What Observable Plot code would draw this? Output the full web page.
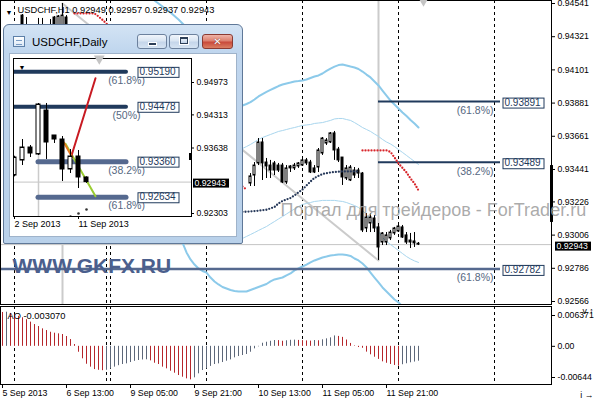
<!DOCTYPE html>
<html>
<head>
<meta charset="utf-8">
<script src="https://cdn.jsdelivr.net/npm/d3@7"></script>
<script src="https://cdn.jsdelivr.net/npm/@observablehq/plot@0.6"></script>
<style>
  html, body { margin: 0; padding: 0; background: #fff; }
  #terminal { position: relative; width: 596px; height: 400px; overflow: hidden; background: #fff;
    font-family: "Liberation Sans", Arial, sans-serif; }
  #terminal svg { position: absolute; overflow: visible; }
  #win { position: absolute; left: 3px; top: 24px; width: 240px; height: 220px; box-sizing: border-box;
    border: 1px solid #5f7898; border-radius: 6px 6px 2px 2px;
    background: linear-gradient(180deg, #d3e3f4 0, #c0d6ee 26px, #b9d1ea 100%); }
  #win .ico { position: absolute; left: 9px; top: 11px; width: 10px; height: 9px; border: 1px solid #5d80a8;
    background: linear-gradient(180deg, #ffffff, #dbe8f6); }
  #win .ico::after { content: ""; position: absolute; left: 2px; top: 3px; width: 6px; height: 3px;
    border-top: 1px solid #7a9cc4; border-bottom: 1px solid #7a9cc4; }
  #win .ttl { position: absolute; left: 28px; top: 11px; font-size: 11.5px; line-height: 13px; color: #000; }
  #win .btn { position: absolute; top: 9px; height: 15px; box-sizing: border-box; border: 1px solid #6c819d;
    border-radius: 3px; background: linear-gradient(180deg, #f0f5fb 0, #d9e5f2 45%, #c5d6ea 55%, #d6e4f3 100%); }
  #win .min { left: 133px; width: 30px; }
  #win .max { left: 165px; width: 30px; }
  #win .cls { left: 198px; width: 31px; border-color: #8a3b33; color: #fff; text-align: center;
    font: bold 10px/13px "DejaVu Sans", sans-serif; text-shadow: 0 0 1px #5a1c14;
    background: linear-gradient(180deg, #efb4a8 0, #dc806f 45%, #c94a3b 55%, #da7f63 100%); }
  #win .min::after { content: ""; position: absolute; left: 10px; top: 7px; width: 7px; height: 2px;
    background: #2d3f57; border: 1px solid #fff; }
  #win .max::after { content: ""; position: absolute; left: 10px; top: 2px; width: 6px; height: 4px;
    border: 1px solid #2d3f57; border-top-width: 2px; box-shadow: 0 0 0 1px #fff; }
  #win .client { position: absolute; left: 6px; top: 29px; width: 226px; height: 182px; background: #fff;
    box-shadow: 0 0 0 1px #9fb3ca; }
</style>
</head>
<body>
<div id="terminal"></div>
<script>
// ===== USDCHF H1 (bar index 0 = 5 Sep 2013 21:00, one bar per hour) =====
const barIndex = [5, 6, 9, 10, 12, 13, 14, 15, 16,
  62, 63, 64, 65, 66, 67, 68, 69, 70, 71, 72, 73, 74, 75, 76, 77, 78, 79, 80, 81,
  82, 83, 84, 85, 86, 87, 88, 89, 90, 91, 92, 93, 94, 95, 96, 97, 98, 99, 100, 101,
  102, 103, 104];
const barOpen = [0.94461, 0.94330, 0.94370, 0.94345, 0.94370, 0.94448, 0.94380, 0.94380, 0.94448,
  0.93348, 0.93401, 0.93481, 0.93620, 0.93487, 0.93467, 0.93481, 0.93467, 0.93467, 0.93355,
  0.93448, 0.93448, 0.93461, 0.93467, 0.93501, 0.93487, 0.93448, 0.93454, 0.93547, 0.93613,
  0.93620, 0.93680, 0.93573, 0.93520, 0.93381, 0.93368, 0.93434, 0.93434, 0.93414, 0.93050,
  0.93083, 0.93116, 0.93057, 0.92957, 0.92957, 0.92984, 0.93017, 0.93030, 0.93057, 0.93004,
  0.92970, 0.92964, 0.92949];
const barHigh = [0.94468, 0.94448, 0.94442, 0.94442, 0.94435, 0.94455, 0.94461, 0.94541, 0.94461,
  0.93414, 0.93487, 0.93646, 0.93646, 0.93514, 0.93501, 0.93494, 0.93481, 0.93481, 0.93467,
  0.93467, 0.93481, 0.93487, 0.93514, 0.93514, 0.93501, 0.93467, 0.93580, 0.93653, 0.93646,
  0.93686, 0.93693, 0.93587, 0.93520, 0.93467, 0.93467, 0.93454, 0.93448, 0.93421, 0.93149,
  0.93149, 0.93136, 0.93083, 0.93023, 0.93023, 0.93037, 0.93057, 0.93076, 0.93070, 0.93023,
  0.93017, 0.93023, 0.92957];
const barLow = [0.94322, 0.94320, 0.94310, 0.94330, 0.94350, 0.94360, 0.94370, 0.94370, 0.94370,
  0.93328, 0.93328, 0.93467, 0.93368, 0.93381, 0.93381, 0.93401, 0.93421, 0.93348, 0.93342,
  0.93421, 0.93434, 0.93448, 0.93461, 0.93467, 0.93414, 0.93414, 0.93421, 0.93534, 0.93600,
  0.93613, 0.93501, 0.93487, 0.93335, 0.93368, 0.93361, 0.93381, 0.93381, 0.93023, 0.93023,
  0.93023, 0.93023, 0.92838, 0.92937, 0.92937, 0.92970, 0.93004, 0.93023, 0.92984, 0.92944,
  0.92917, 0.92924, 0.92937];
const barClose = [0.94349, 0.94375, 0.94340, 0.94380, 0.94385, 0.94375, 0.94455, 0.94461, 0.94385,
  0.93395, 0.93467, 0.93620, 0.93481, 0.93461, 0.93434, 0.93434, 0.93434, 0.93355, 0.93448,
  0.93461, 0.93467, 0.93481, 0.93501, 0.93481, 0.93421, 0.93421, 0.93567, 0.93646, 0.93633,
  0.93680, 0.93567, 0.93501, 0.93388, 0.93448, 0.93454, 0.93401, 0.93414, 0.93037, 0.93123,
  0.93123, 0.93050, 0.92924, 0.93017, 0.93004, 0.93023, 0.93050, 0.93063, 0.92990, 0.92957,
  0.92957, 0.92951, 0.92943];

// Bollinger-style envelopes (outer and inner), first value at bandStart / lowerBandStart
const bandStart = 60;
const bandUpper = [0.93865, 0.93875, 0.93887, 0.93905, 0.93925, 0.93941, 0.93955, 0.93968, 0.93981, 0.93994,
  0.94004, 0.94011, 0.94017, 0.94024, 0.94027, 0.94031, 0.94037, 0.94047, 0.94057, 0.94064,
  0.94077, 0.94094, 0.94110, 0.94123, 0.94133, 0.94137, 0.94130, 0.94123, 0.94117, 0.94107,
  0.94090, 0.94070, 0.94051, 0.94024, 0.93998, 0.93964, 0.93931, 0.93898, 0.93872, 0.93845,
  0.93819, 0.93795, 0.93769, 0.93746, 0.93719];
const upperEarlyStart = 38;
const bandUpperEarly = [0.94561, 0.94541, 0.94521, 0.94501, 0.94481, 0.94458, 0.94435, 0.94408, 0.94382];
const bandInnerUpper = [0.93580, 0.93593, 0.93607, 0.93623, 0.93640, 0.93653, 0.93663, 0.93673, 0.93683, 0.93693,
  0.93699, 0.93706, 0.93713, 0.93719, 0.93726, 0.93733, 0.93736, 0.93739, 0.93746, 0.93749,
  0.93752, 0.93759, 0.93766, 0.93776, 0.93779, 0.93779, 0.93772, 0.93766, 0.93752, 0.93736,
  0.93719, 0.93706, 0.93693, 0.93676, 0.93660, 0.93640, 0.93623, 0.93610, 0.93593, 0.93573,
  0.93554, 0.93534, 0.93514, 0.93494, 0.93474];
const bandInnerLower = [0.92984, 0.92997, 0.93010, 0.93023, 0.93037, 0.93050, 0.93063, 0.93080, 0.93096, 0.93113,
  0.93129, 0.93146, 0.93163, 0.93179, 0.93196, 0.93209, 0.93216, 0.93222, 0.93229, 0.93232,
  0.93236, 0.93236, 0.93236, 0.93236, 0.93232, 0.93229, 0.93222, 0.93212, 0.93202, 0.93189,
  0.93169, 0.93143, 0.93110, 0.93070, 0.93030, 0.92990, 0.92964, 0.92944, 0.92924, 0.92904,
  0.92884, 0.92864, 0.92848, 0.92835, 0.92825];
const lowerBandStart = 44;
const bandLower = [0.92984, 0.92957, 0.92891, 0.92845, 0.92811, 0.92785, 0.92768, 0.92758, 0.92725, 0.92699,
  0.92679, 0.92662, 0.92652, 0.92642, 0.92636, 0.92632, 0.92632, 0.92632, 0.92642, 0.92652,
  0.92662, 0.92672, 0.92682, 0.92699, 0.92712, 0.92719, 0.92725, 0.92739, 0.92752, 0.92772,
  0.92785, 0.92798, 0.92811, 0.92825, 0.92838, 0.92848, 0.92858, 0.92864, 0.92871, 0.92874,
  0.92878, 0.92878, 0.92874, 0.92868, 0.92851, 0.92838, 0.92818, 0.92792, 0.92758, 0.92725,
  0.92692, 0.92659, 0.92632, 0.92606, 0.92579, 0.92560, 0.92533, 0.92507, 0.92487, 0.92460,
  0.92440];

// dotted trailing-stop lines
const trailSupport = [0.93160, 0.93161, 0.93163, 0.93165, 0.93168, 0.93171, 0.93174, 0.93183, 0.93192, 0.93216,
  0.93232, 0.93242, 0.93252, 0.93269, 0.93289, 0.93308, 0.93335, 0.93361, 0.93385, 0.93398,
  0.93411, 0.93416, 0.93421, 0.93424, 0.93426, 0.93428, 0.93428, 0.93428, 0.93428, 0.93428]; // from bar 60
const trailResistEarly = [0.94475, 0.94475, 0.94475, 0.94475, 0.94475, 0.94475, 0.94455, 0.94432, 0.94408, 0.94382]; // from bar 18
const trailResistMid = [0.93328, 0.93308]; // from bar 60
const trailResistLate = [0.93567, 0.93567, 0.93567, 0.93567, 0.93567, 0.93567, 0.93567, 0.93557, 0.93520, 0.93481,
  0.93451, 0.93421, 0.93381, 0.93348, 0.93302]; // from bar 90

// Fibonacci retracement: swing high -> swing low, and its levels
const fibSwingBar = [15, 94];
const fibSwingPrice = [0.94541, 0.92838];
const fibLevelPrice = [0.93891, 0.93489, 0.92782];
const fibLevelText = ["(61.8%)", "(38.2%)", "(61.8%)"];
const fibLevelFrom = [94, 94, -0.5];

// Awesome Oscillator, one value per bar from bar 0
const aoValues = [0.00700, 0.00705, 0.00680, 0.00650, 0.00620, 0.00590, 0.00550, 0.00500, 0.00450, 0.00409,
  0.00361, 0.00326, 0.00291, 0.00271, 0.00258, 0.00244, 0.00203, 0.00140, 0.00037, -0.00122,
  -0.00258, -0.00370, -0.00430, -0.00480, -0.00495, -0.00503, -0.00495, -0.00470, -0.00430, -0.00400,
  -0.00376, -0.00362, -0.00335, -0.00310, -0.00293, -0.00282, -0.00278, -0.00300, -0.00349, -0.00376,
  -0.00430, -0.00465, -0.00514, -0.00555, -0.00603, -0.00638, -0.00672, -0.00693, -0.00651, -0.00568,
  -0.00500, -0.00465, -0.00415, -0.00376, -0.00362, -0.00335, -0.00307, -0.00280, -0.00238, -0.00211,
  -0.00190, -0.00169, -0.00122, -0.00052, -0.00010, 0.00064, 0.00085, 0.00105, 0.00120, 0.00118,
  0.00105, 0.00115, 0.00125, 0.00128, 0.00122, 0.00118, 0.00112, 0.00108, 0.00120, 0.00115,
  0.00135, 0.00155, 0.00175, 0.00215, 0.00205, 0.00185, 0.00130, 0.00060, 0.00010, -0.00025,
  -0.00040, -0.00120, -0.00175, -0.00225, -0.00270, -0.00320, -0.00350, -0.00375, -0.00395, -0.00410,
  -0.00380, -0.00360, -0.00340, -0.00325, -0.00307];

// axes
const priceTicks = [0.94541, 0.94321, 0.94101, 0.93881, 0.93661, 0.93441, 0.93226, 0.93006, 0.92786, 0.92566];
const aoTicks = [0.006371, 0, -0.00644];
const aoTickText = ["0.006371", "0.00", "-0.00644"];
const separators = [3, 26, 27, 51, 75, 99, 123];
const timeTicks = [0, 16, 32, 48, 64, 80, 96];
const timeText = ["5 Sep 2013", "6 Sep 13:00", "9 Sep 05:00", "9 Sep 21:00", "10 Sep 13:00", "11 Sep 05:00", "11 Sep 21:00"];
const scaleMarker = [0.93467, 0.93090];

// ===== USDCHF Daily window =====
const dayIndex = [0, 1, 2, 3, 4, 5, 6, 7, 8, 9];
const dayOpen = [0.93077, 0.93383, 0.93648, 0.93505, 0.94402, 0.93893, 0.93811, 0.93200, 0.93465, 0.93037];
const dayHigh = [0.93470, 0.93811, 0.93689, 0.94545, 0.94545, 0.93893, 0.93872, 0.93607, 0.93587, 0.93050];
const dayLow = [0.93050, 0.93281, 0.93444, 0.93485, 0.93404, 0.93730, 0.92955, 0.93118, 0.92812, 0.92917];
const dayClose = [0.93444, 0.93648, 0.93526, 0.94525, 0.93750, 0.93811, 0.93200, 0.93465, 0.93037, 0.92943];
const dayFibPrice = [0.95190, 0.94478, 0.93360, 0.92634];
const dayFibText = ["(61.8%)", "(50%)", "(38.2%)", "(61.8%)"];
const dayFibFrom = [-1, -1, 3, 3];
const dayAnchor = [3, 0.94478];
const dayUpLeg = [[7.09, 0.93465], [10.125, 0.95061]];
const dayDownLeg = [[6.375, 0.93724], [10.125, 0.92655]];
const dayTurnLeg = [[6.16, 0.93756], [7.21, 0.93450]];
const dayStopBar = [7, 8, 9];
const dayStopPrice = [0.92242, 0.92303, 0.92384];
const dayPriceTicks = [0.94973, 0.94313, 0.93638, 0.92303];
const dayTimeTicks = [0, 8];
const dayTimeText = ["2 Sep 2013", "11 Sep 2013"];
const dayScaleMarker = [0.93526, 0.93383];

// ===== drawing =====
const FONT = '"Liberation Sans", Arial, sans-serif';
const STYLE = {fontFamily: FONT, fontSize: "8.7px", background: "transparent", color: "#000", overflow: "visible"};
const FIB_DARK = "#203a5c", FIB_SLATE = "#55698f";
const BOX_TEXT = "#1f3a5c", BID_TEXT = "#fefefe"; // text colours that get a framed box behind them
const RED_DOTS = "#d8262b", DARK_DOTS = "#27395a";
const BAND = "#8ccaea", BAND_INNER = "#a9d6ee", GREY_LINE = "#cbcbcb";
const fmt5 = d => d.toFixed(5);
const seq = (values, start) => values.map((v, k) => ({i: start + k, v}));
const ohlc = (idx, o, h, l, c) => idx.map((i, k) => ({i, o: o[k], h: h[k], l: l[k], c: c[k]}));

const candleMarks = (data, half) => [
  Plot.ruleX(data, {x: "i", y1: "l", y2: "h", stroke: "#000", clip: true}),
  Plot.rect(data, {x1: d => d.i - half, x2: d => d.i + half, y1: "o", y2: "c", fill: "#000",
    insetTop: -0.5, insetBottom: -0.5, clip: true}),
  Plot.rect(data.filter(d => d.c > d.o), {x1: d => d.i - half, x2: d => d.i + half, y1: "o", y2: "c",
    fill: "#fff", inset: 1, clip: true})
];
const dotted = (data, stroke) => Plot.line(data, {x: "i", y: "v", stroke, strokeWidth: 2.3,
  strokeDasharray: "0,3", strokeLinecap: "round", clip: true});

const bars = ohlc(barIndex, barOpen, barHigh, barLow, barClose);
const last = bars[bars.length - 1];
const fibSwing = fibSwingBar.map((i, k) => ({i, p: fibSwingPrice[k]}));
const fibLevels = fibLevelPrice.map((p, k) => ({p, text: fibLevelText[k], from: fibLevelFrom[k]}));
const FIB_END = 124.5;
const X_MAIN = {domain: [-0.5, 137.25], range: [0, 551], axis: null};

const priceChart = Plot.plot({
  width: 596, height: 306,
  marginTop: 0, marginRight: 45, marginBottom: 2, marginLeft: 0,
  x: X_MAIN,
  y: {domain: [0.92566, 0.94541], range: [301, 3], axis: null},
  style: STYLE,
  marks: [
    Plot.ruleX(separators, {stroke: "#000", strokeDasharray: "3,3"}),
    Plot.ruleY([last.c], {stroke: "#c4c4c4"}),
    Plot.ruleX(fibSwing.slice(0, 1), {x: "i", y1: "p", y2: 0.92, stroke: GREY_LINE, strokeWidth: 2, clip: true}),
    Plot.ruleX(fibSwing.slice(1), {x: "i", y1: "p", y2: 0.95, stroke: GREY_LINE, strokeWidth: 2, clip: true}),
    Plot.line(fibSwing, {x: "i", y: "p", stroke: GREY_LINE, strokeWidth: 2, clip: true}),
    Plot.line(seq(bandUpperEarly, upperEarlyStart), {x: "i", y: "v", stroke: BAND, strokeWidth: 2, clip: true}),
    Plot.line(seq(bandUpper, bandStart), {x: "i", y: "v", stroke: BAND, strokeWidth: 2, clip: true}),
    Plot.line(seq(bandLower, lowerBandStart), {x: "i", y: "v", stroke: BAND, strokeWidth: 2, clip: true}),
    Plot.line(seq(bandInnerUpper, bandStart), {x: "i", y: "v", stroke: BAND_INNER, strokeWidth: 1, clip: true}),
    Plot.line(seq(bandInnerLower, bandStart), {x: "i", y: "v", stroke: BAND_INNER, strokeWidth: 1, clip: true}),
    Plot.ruleY(fibLevels.slice(0, 2), {y: "p", x1: "from", x2: FIB_END, stroke: FIB_DARK, strokeWidth: 2}),
    Plot.ruleY(fibLevels.slice(2), {y: "p", x1: "from", x2: FIB_END, stroke: FIB_SLATE, strokeWidth: 2.5, clip: true}),
    ...candleMarks(bars, 0.375),
    dotted(seq(trailSupport, 60), DARK_DOTS),
    dotted(seq(trailResistEarly, 18), RED_DOTS),
    dotted(seq(trailResistMid, 60), RED_DOTS),
    dotted(seq(trailResistLate, 90), RED_DOTS),
    Plot.text(fibLevels, {x: FIB_END, y: "p", text: "text", textAnchor: "end", dx: -7, dy: 9,
      fill: "#56687f", fontSize: 10.5}),
    Plot.text(fibLevels, {x: FIB_END, y: "p", text: d => fmt5(d.p), textAnchor: "start", dx: 4, dy: 1,
      fill: BOX_TEXT, fontSize: 10}),
    Plot.frame({stroke: "#000"}),
    Plot.axisY(priceTicks, {anchor: "right", tickSize: 3, tickPadding: 3, tickFormat: fmt5}),
    Plot.ruleX([scaleMarker], {x: 137.25, y1: d => d[0], y2: d => d[1], stroke: "#000", strokeWidth: 3}),
    Plot.text([last.c], {y: d => d, frameAnchor: "right", textAnchor: "start", dx: 5, dy: 1.5,
      fill: BID_TEXT, text: d => fmt5(d)}),
    Plot.text([`USDCHF,H1 ${fmt5(last.o)} ${fmt5(last.h)} ${fmt5(last.l)} ${fmt5(last.c)}`],
      {text: d => d, frameAnchor: "top-left", dx: 17, dy: 9.5, textAnchor: "start", lineAnchor: "middle", fontSize: 9.3}),
    Plot.text(["▼"], {text: d => d, frameAnchor: "top-left", dx: 5, dy: 12, textAnchor: "start", lineAnchor: "middle", fontSize: 7}),
    Plot.dot([last.i + 1.25], {x: d => d, frameAnchor: "top", symbol: "triangle", rotate: 180, r: 4, fill: "#c4c4c4"}),
    Plot.text(["Портал для трейдеров - ForTrader.ru"], {text: d => d, frameAnchor: "top-left", dx: 280, dy: 210,
      textAnchor: "start", lineAnchor: "middle", fontSize: 18, fill: "#9c9c9c", fillOpacity: 0.85}),
    Plot.text(["WWW.GKFX.RU"], {text: d => d, frameAnchor: "top-left", dx: 12, dy: 266,
      textAnchor: "start", lineAnchor: "middle", fontSize: 21, fontWeight: "bold", fill: "#4b5f8d"})
  ]
});

const aoData = aoValues.map((v, i) => ({i, v, rising: i > 0 && v > aoValues[i - 1]}));
const aoLabel = new Map(aoTicks.map((t, k) => [t, aoTickText[k]]));
const timeLabel = new Map(timeTicks.map((t, k) => [t, timeText[k]]));
const aoChart = Plot.plot({
  width: 596, height: 96,
  marginTop: 2, marginRight: 45, marginBottom: 16, marginLeft: 0,
  x: X_MAIN,
  y: {domain: [-0.00644, 0.006371], range: [73, 11], axis: null},
  style: STYLE,
  marks: [
    Plot.ruleX(separators, {stroke: "#000", strokeDasharray: "3,3"}),
    Plot.ruleX(aoData.filter(d => d.rising), {x: "i", y1: 0, y2: "v", stroke: "#5d6779"}),
    Plot.ruleX(aoData.filter(d => !d.rising), {x: "i", y1: 0, y2: "v", stroke: "#b5262b"}),
    Plot.text([`AO ${aoValues[aoValues.length - 1].toFixed(6)}`], {text: d => d, frameAnchor: "top-left",
      dx: 7, dy: 10, textAnchor: "start", lineAnchor: "middle", fontSize: 9.3}),
    Plot.frame({stroke: "#000"}),
    Plot.axisY(aoTicks, {anchor: "right", tickSize: 3, tickPadding: 3, tickFormat: d => aoLabel.get(d)}),
    Plot.axisX(timeTicks, {anchor: "bottom", tickSize: 4, tickPadding: 1, textAnchor: "start",
      tickFormat: d => timeLabel.get(d), fontSize: 8.8})
  ]
});

const days = ohlc(dayIndex, dayOpen, dayHigh, dayLow, dayClose);
const dayLast = days[days.length - 1];
const dayFib = dayFibPrice.map((p, k) => ({p, text: dayFibText[k], from: dayFibFrom[k]}));
const DAY_FIB_END = 14;
const dayTimeLabel = new Map(dayTimeTicks.map((t, k) => [t, dayTimeText[k]]));
const dailyChart = Plot.plot({
  width: 226, height: 182,
  marginTop: 4, marginRight: 45, marginBottom: 20, marginLeft: 3,
  x: {domain: [0, 22], range: [4, 180], axis: null},
  y: {domain: [0.92303, 0.94973], range: [159, 28], axis: null},
  style: STYLE,
  marks: [
    Plot.ruleY([dayLast.c], {stroke: "#c4c4c4"}),
    Plot.ruleX([dayAnchor], {x: d => d[0], y1: d => d[1], y2: 0.92, stroke: GREY_LINE, strokeWidth: 1.5, clip: true}),
    Plot.ruleY(dayFib.slice(0, 2), {y: "p", x1: "from", x2: DAY_FIB_END, stroke: FIB_DARK, strokeWidth: 4,
      strokeLinecap: "round", clip: true}),
    Plot.ruleY(dayFib.slice(2), {y: "p", x1: "from", x2: DAY_FIB_END, stroke: FIB_SLATE, strokeWidth: 5,
      strokeLinecap: "round", clip: true}),
    Plot.line(dayDownLeg, {x: d => d[0], y: d => d[1], stroke: "#9acd32", strokeWidth: 2}),
    Plot.line(dayUpLeg, {x: d => d[0], y: d => d[1], stroke: "#c81a22", strokeWidth: 2}),
    Plot.line(dayTurnLeg, {x: d => d[0], y: d => d[1], stroke: "#e67a1e", strokeWidth: 2}),
    ...candleMarks(days, 0.3125),
    Plot.dot(dayStopBar, {x: d => d, y: (d, k) => dayStopPrice[k], r: 1.3, fill: "#333", clip: true}),
    Plot.text(dayFib, {x: DAY_FIB_END, y: "p", text: "text", dy: 8.5, fill: "#56687f", fontSize: 10.5}),
    Plot.text(dayFib, {x: DAY_FIB_END, y: "p", text: d => fmt5(d.p), textAnchor: "start", dx: 13,
      fill: BOX_TEXT, fontSize: 10}),
    Plot.frame({stroke: "#000"}),
    Plot.axisY(dayPriceTicks, {anchor: "right", tickSize: 2, tickPadding: 3, tickFormat: fmt5}),
    Plot.ruleX([dayScaleMarker], {x: 22, y1: d => d[0], y2: d => d[1], stroke: "#000", strokeWidth: 3}),
    Plot.text([dayLast.c], {y: d => d, frameAnchor: "right", textAnchor: "start", dx: 3, dy: 1,
      fill: BID_TEXT, text: d => fmt5(d)}),
    Plot.axisX(dayTimeTicks, {anchor: "bottom", tickSize: 3, tickPadding: 1, textAnchor: "start",
      tickFormat: d => dayTimeLabel.get(d), fontSize: 9}),
    Plot.text(["▼"], {text: d => d, frameAnchor: "top-left", dx: 5, dy: 9, textAnchor: "start", lineAnchor: "middle", fontSize: 7}),
    Plot.dot([dayLast.i + 1.6], {x: d => d, frameAnchor: "top", symbol: "triangle", rotate: 180, r: 4, fill: "#c4c4c4"})
  ]
});

// ----- assemble the terminal window -----
const term = document.getElementById("terminal");
priceChart.style.left = "0px"; priceChart.style.top = "0px";
aoChart.style.left = "0px"; aoChart.style.top = "304px";
term.appendChild(priceChart);
term.appendChild(aoChart);

const win = document.createElement("div");
win.id = "win";
win.innerHTML = '<div class="ico"></div><div class="ttl">USDCHF,Daily</div>' +
  '<div class="btn min"></div><div class="btn max"></div><div class="btn cls">✕</div><div class="client"></div>';
term.appendChild(win);
dailyChart.style.left = "10px"; dailyChart.style.top = "54px";
term.appendChild(dailyChart);

// framed price labels: a rectangle behind every text drawn in the given colour
function boxLabels(svg, textFill, fill, stroke, padX, padY) {
  svg.querySelectorAll("text").forEach(t => {
    const f = t.getAttribute("fill") || (t.parentNode && t.parentNode.getAttribute && t.parentNode.getAttribute("fill"));
    if (!f || f.toLowerCase() !== textFill) return;
    const b = t.getBBox();
    const r = document.createElementNS("http://www.w3.org/2000/svg", "rect");
    r.setAttribute("x", Math.round(b.x - padX) + 0.5);
    r.setAttribute("y", Math.round(b.y - padY) + 0.5);
    r.setAttribute("width", Math.round(b.width + 2 * padX));
    r.setAttribute("height", Math.round(b.height + 2 * padY));
    r.setAttribute("fill", fill);
    r.setAttribute("stroke", stroke || "none");
    r.setAttribute("stroke-width", 1);
    const tr = t.getAttribute("transform");
    if (tr) r.setAttribute("transform", tr);
    t.parentNode.insertBefore(r, t);
  });
}
boxLabels(priceChart, BOX_TEXT, "#fff", FIB_DARK, 2, -0.5);
boxLabels(priceChart, BID_TEXT, "#000", null, 2, -0.5);
boxLabels(dailyChart, BOX_TEXT, "#fff", FIB_DARK, 2, -0.5);
boxLabels(dailyChart, BID_TEXT, "#000", null, 2, -0.5);
</script>
</body>
</html>
